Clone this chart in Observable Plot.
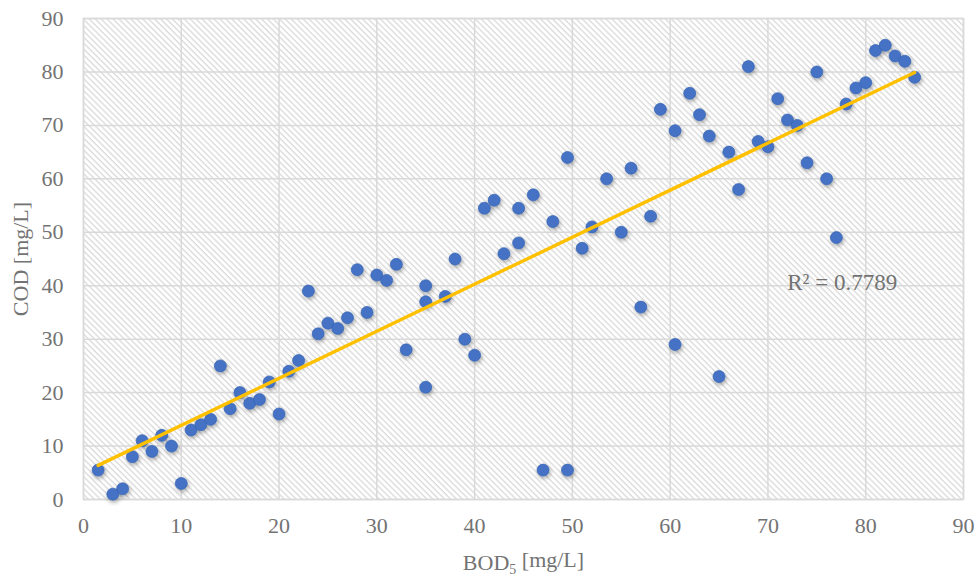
<!DOCTYPE html>
<html>
<head>
<meta charset="utf-8">
<script src="https://cdn.jsdelivr.net/npm/d3@7"></script>
<script src="https://cdn.jsdelivr.net/npm/@observablehq/plot@0.6"></script>
<style>
  body { margin: 0; background: #fff; }
</style>
</head>
<body>
<div id="chart"></div>
<script>
// BOD5 and COD measurements [mg/L], one entry per sample
const bod = [1.5, 3, 4, 5, 6, 7, 8, 9, 10, 11, 12, 13, 14, 15, 16, 17, 18, 19, 20, 21,
  22, 23, 24, 25, 26, 27, 28, 29, 30, 31, 32, 33, 35, 35, 35, 37, 38, 39, 40, 41,
  42, 43, 44.5, 44.5, 46, 47, 48, 49.5, 49.5, 51, 52, 53.5, 55, 56, 57, 58, 59, 60.5, 60.5, 62,
  63, 64, 65, 66, 67, 68, 69, 70, 71, 72, 73, 74, 75, 76, 77, 78, 79, 80, 81, 82,
  83, 84, 85];
const cod = [5.5, 1, 2, 8, 11, 9, 12, 10, 3, 13, 14, 15, 25, 17, 20, 18, 18.7, 22, 16, 24,
  26, 39, 31, 33, 32, 34, 43, 35, 42, 41, 44, 28, 21, 37, 40, 38, 45, 30, 27, 54.5,
  56, 46, 48, 54.5, 57, 5.5, 52, 64, 5.5, 47, 51, 60, 50, 62, 36, 53, 73, 69, 29, 76,
  72, 68, 23, 65, 58, 81, 67, 66, 75, 71, 70, 63, 80, 60, 49, 74, 77, 78, 84, 85,
  83, 82, 79];

const xTicks = [0, 10, 20, 30, 40, 50, 60, 70, 80, 90];
const yTicks = [0, 10, 20, 30, 40, 50, 60, 70, 80, 90];
const r2Label = "R² = 0.7789";

const samples = bod.map((b, i) => ({bod: b, cod: cod[i]}));

const gridStyle = {stroke: "#d9d9d9", strokeOpacity: 1, strokeWidth: 1.5};

const chart = Plot.plot({
  width: 976,
  height: 577,
  marginLeft: 83,
  marginTop: 18,
  marginRight: 13,
  marginBottom: 78,
  style: {
    fontFamily: "'Liberation Serif', 'Times New Roman', serif",
    fontSize: "22px",
    color: "#737373",
    background: "#fff"
  },
  x: {domain: [0, 90], ticks: xTicks, tickSize: 0, tickPadding: 18,
      label: "BOD5 [mg/L]", labelAnchor: "center", labelOffset: 70, labelArrow: "none"},
  y: {domain: [0, 90], ticks: yTicks, tickSize: 0, tickPadding: 20,
      label: "COD [mg/L]", labelAnchor: "center", labelOffset: 71, labelArrow: "none"},
  marks: [
    Plot.frame({fill: "url(#hatch)"}),
    Plot.gridX(xTicks, gridStyle),
    Plot.gridY(yTicks, gridStyle),
    Plot.frame({stroke: "#d9d9d9", strokeWidth: 1.5}),
    Plot.dot(samples, {x: "bod", y: "cod", r: 6, fill: "#4472c4", stroke: "#3763b3", strokeWidth: 0.7}),
    Plot.linearRegressionY(samples, {x: "bod", y: "cod", stroke: "#ffc000", strokeWidth: 3.4, ci: 0}),
    Plot.text([r2Label], {x: 77.6, y: 40.5, text: (d) => d, fill: "#737373", fontSize: 23})
  ]
});

// Diagonal hatch for the plot background and a soft shadow under the markers
const svg = d3.select(chart);
const defs = svg.insert("defs", ":first-child");
const hatch = defs.append("pattern")
  .attr("id", "hatch")
  .attr("patternUnits", "userSpaceOnUse")
  .attr("width", 4.2)
  .attr("height", 4.2)
  .attr("patternTransform", "rotate(45)");
hatch.append("rect").attr("width", 4.2).attr("height", 4.2).attr("fill", "#ffffff");
hatch.append("rect").attr("width", 4.2).attr("height", 1.3).attr("fill", "#dadada");

const shadow = defs.append("filter")
  .attr("id", "dotShadow")
  .attr("x", "-50%").attr("y", "-50%").attr("width", "200%").attr("height", "200%");
shadow.append("feDropShadow")
  .attr("dx", 1).attr("dy", 2).attr("stdDeviation", 2.2)
  .attr("flood-color", "#000").attr("flood-opacity", 0.35);
svg.select("g[aria-label='dot']").attr("filter", "url(#dotShadow)");

// Subscript 5 in the x-axis title
const xLabel = svg.select("g[aria-label='x-axis label'] text");
xLabel.text(null);
xLabel.append("tspan").text("BOD");
xLabel.append("tspan").attr("font-size", "14px").attr("dy", "0.3em").text("5");
xLabel.append("tspan").attr("dy", "-0.3em").text(" [mg/L]");

document.getElementById("chart").append(chart);
</script>
</body>
</html>
